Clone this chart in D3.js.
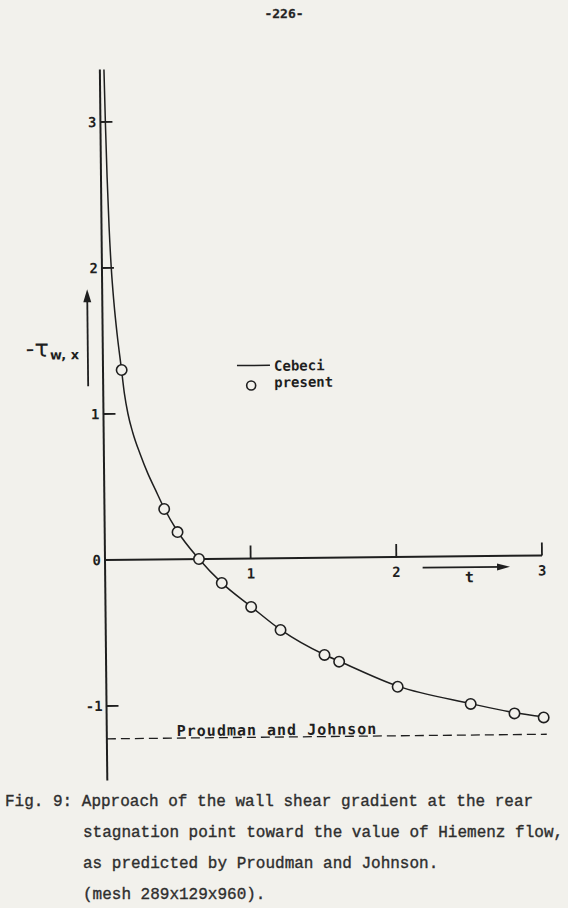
<!DOCTYPE html>
<html lang="en">

<head>
    <meta charset="UTF-8">
    <title>Fig. 9 - wall shear gradient at the rear stagnation point</title>
    <script src="https://cdn.jsdelivr.net/npm/d3@7"></script>
    <style>
        body {
            margin: 0;
            background: #f2f1ec;
        }

        svg {
            display: block;
        }

        .ink {
            stroke: #1f1f1f;
            fill: none;
        }

        .lettering {
            font-family: "DejaVu Sans Mono", monospace;
            font-weight: bold;
            fill: #1f1f1f;
        }

        .typed {
            font-family: "Liberation Mono", "Courier New", monospace;
            font-size: 16px;
            fill: #2e2e2e;
            stroke: #2e2e2e;
            stroke-width: 0.35px;
        }
    </style>
</head>

<body>
    <svg class="figure" width="568" height="908"></svg>
    <script>
        // Cebeci solution (solid line)
        const cebeciT = [0.028, 0.034, 0.042, 0.052, 0.064, 0.080, 0.100, 0.125, 0.145, 0.168, 0.200, 0.250,
            0.300, 0.350, 0.410, 0.500, 0.645, 0.800, 1.000, 1.200, 1.500, 1.600, 2.000, 2.500, 2.800, 3.000];
        const cebeciTau = [3.36, 3.00, 2.62, 2.28, 2.00, 1.76, 1.54, 1.32, 1.14, 1.00, 0.87, 0.72,
            0.59, 0.48, 0.35, 0.19, 0.00, -0.165, -0.33, -0.49, -0.665, -0.71, -0.885, -1.01, -1.075, -1.105];

        // present results (circles)
        const presentT = [0.128, 0.41, 0.50, 0.645, 0.80, 1.00, 1.20, 1.50, 1.60, 2.00, 2.50, 2.80, 3.00];
        const presentTau = [1.30, 0.345, 0.186, 0.0, -0.166, -0.332, -0.492, -0.666, -0.713, -0.889, -1.012, -1.08, -1.11];

        // Proudman and Johnson asymptote
        const proudmanJohnson = -1.225;

        const xTicks = [1, 2, 3];
        const yTicks = [3, 2, 1, 0, -1];

        const caption = [
            "Fig. 9: Approach of the wall shear gradient at the rear",
            "stagnation point toward the value of Hiemenz flow,",
            "as predicted by Proudman and Johnson.",
            "(mesh 289x129x960)."
        ];

        // Scales
        const x = d3.scaleLinear().domain([0, 3]).range([105, 542]);
        const y = d3.scaleLinear().domain([0, 1]).range([560, 414]);
        const yTop = 3.36, yBottom = -1.51;

        const svg = d3.select(".figure");

        // page number
        svg.append("text")
            .attr("class", "lettering")
            .attr("x", 284)
            .attr("y", 18)
            .attr("text-anchor", "middle")
            .attr("font-size", "13px")
            .attr("font-weight", "normal")
            .attr("fill", "#333")
            .attr("stroke", "#333")
            .attr("stroke-width", 0.3)
            .text("-226-");

        // the scanned drawing sits slightly rotated on the page
        const g = svg.append("g")
            .attr("transform", `rotate(-0.6, ${x(0)}, ${y(0)})`);

        // y axis
        g.append("line")
            .attr("class", "ink")
            .attr("stroke-width", 2)
            .attr("x1", x(0)).attr("x2", x(0))
            .attr("y1", y(yTop)).attr("y2", y(yBottom));

        g.selectAll(".ytick")
            .data(yTicks.filter(d => d !== 0))
            .join("line")
            .attr("class", "ytick ink")
            .attr("stroke-width", 1.8)
            .attr("x1", x(0)).attr("x2", x(0) + 12)
            .attr("y1", d => y(d)).attr("y2", d => y(d));

        g.selectAll(".ylabel")
            .data(yTicks)
            .join("text")
            .attr("class", "ylabel lettering")
            .attr("font-size", "14px")
            .attr("text-anchor", "end")
            .attr("x", x(0) - 4)
            .attr("y", d => y(d) + 5)
            .text(d => d);

        // x axis
        g.append("line")
            .attr("class", "ink")
            .attr("stroke-width", 2)
            .attr("x1", x(0)).attr("x2", x(3))
            .attr("y1", y(0)).attr("y2", y(0));

        g.selectAll(".xtick")
            .data(xTicks)
            .join("line")
            .attr("class", "xtick ink")
            .attr("stroke-width", 1.8)
            .attr("x1", d => x(d)).attr("x2", d => x(d))
            .attr("y1", y(0)).attr("y2", y(0) - 13);

        g.selectAll(".xlabel")
            .data(xTicks)
            .join("text")
            .attr("class", "xlabel lettering")
            .attr("font-size", "14px")
            .attr("text-anchor", "middle")
            .attr("x", d => x(d))
            .attr("y", y(0) + 20)
            .text(d => d);

        // t arrow
        const ay = y(0) + 11;
        g.append("line")
            .attr("class", "ink")
            .attr("stroke-width", 1.8)
            .attr("x1", x(2.18)).attr("x2", x(2.74))
            .attr("y1", ay).attr("y2", ay);
        g.append("path")
            .attr("fill", "#1f1f1f")
            .attr("d", `M${x(2.78)},${ay} L${x(2.78) - 13},${ay - 3.5} L${x(2.78) - 13},${ay + 3.5} Z`);
        g.append("text")
            .attr("class", "lettering")
            .attr("font-size", "15px")
            .attr("text-anchor", "middle")
            .attr("x", x(2.5))
            .attr("y", y(0) + 26)
            .text("t");

        // y label with arrow
        const yl = g.append("text")
            .attr("font-family", "DejaVu Sans, sans-serif")
            .attr("fill", "#1f1f1f")
            .attr("x", 28)
            .attr("y", 356);
        yl.append("tspan").attr("font-size", "24px").text("-τ");
        yl.append("tspan").attr("font-size", "13px").attr("font-weight", "bold").attr("dy", 3).attr("dx", 1).text("w, x");

        g.append("line")
            .attr("class", "ink")
            .attr("stroke-width", 1.8)
            .attr("x1", 90).attr("x2", 90)
            .attr("y1", 386).attr("y2", 300);
        g.append("path")
            .attr("fill", "#1f1f1f")
            .attr("d", "M90,289 L86,302 L94,302 Z");

        // Proudman and Johnson dashed line
        g.append("line")
            .attr("class", "ink")
            .attr("stroke-width", 1.3)
            .attr("stroke-dasharray", "9,5")
            .attr("x1", x(0)).attr("x2", x(3.02))
            .attr("y1", y(proudmanJohnson)).attr("y2", y(proudmanJohnson));

        g.append("text")
            .attr("class", "lettering")
            .attr("font-size", "15px")
            .attr("letter-spacing", "1px")
            .attr("x", x(0.48))
            .attr("y", y(proudmanJohnson) - 2)
            .text("Proudman and Johnson");

        // Cebeci curve
        const line = d3.line()
            .x((d, i) => x(cebeciT[i]))
            .y(d => y(d))
            .curve(d3.curveMonotoneX);

        g.append("path")
            .attr("class", "ink")
            .attr("stroke-width", 1.5)
            .attr("d", line(cebeciTau));

        // present circles
        g.selectAll(".present")
            .data(presentTau)
            .join("circle")
            .attr("class", "present")
            .attr("cx", (d, i) => x(presentT[i]))
            .attr("cy", d => y(d))
            .attr("r", 5.2)
            .attr("fill", "#f2f1ec")
            .attr("stroke", "#1f1f1f")
            .attr("stroke-width", 1.6);

        // legend
        g.append("line")
            .attr("class", "ink")
            .attr("stroke-width", 1.5)
            .attr("x1", 239).attr("x2", 272)
            .attr("y1", 367).attr("y2", 367);
        g.append("text")
            .attr("class", "lettering")
            .attr("font-size", "14px")
            .attr("x", 276)
            .attr("y", 372.5)
            .text("Cebeci");
        g.append("circle")
            .attr("cx", 253).attr("cy", 387)
            .attr("r", 4.5)
            .attr("fill", "#f2f1ec")
            .attr("stroke", "#1f1f1f")
            .attr("stroke-width", 1.6);
        g.append("text")
            .attr("class", "lettering")
            .attr("font-size", "14px")
            .attr("x", 276)
            .attr("y", 389)
            .text("present");

        // caption
        svg.selectAll(".typed")
            .data(caption)
            .join("text")
            .attr("class", "typed")
            .attr("x", (d, i) => i === 0 ? 5 : 83)
            .attr("y", (d, i) => 806 + i * 31)
            .text(d => d);
    </script>
</body>

</html>
